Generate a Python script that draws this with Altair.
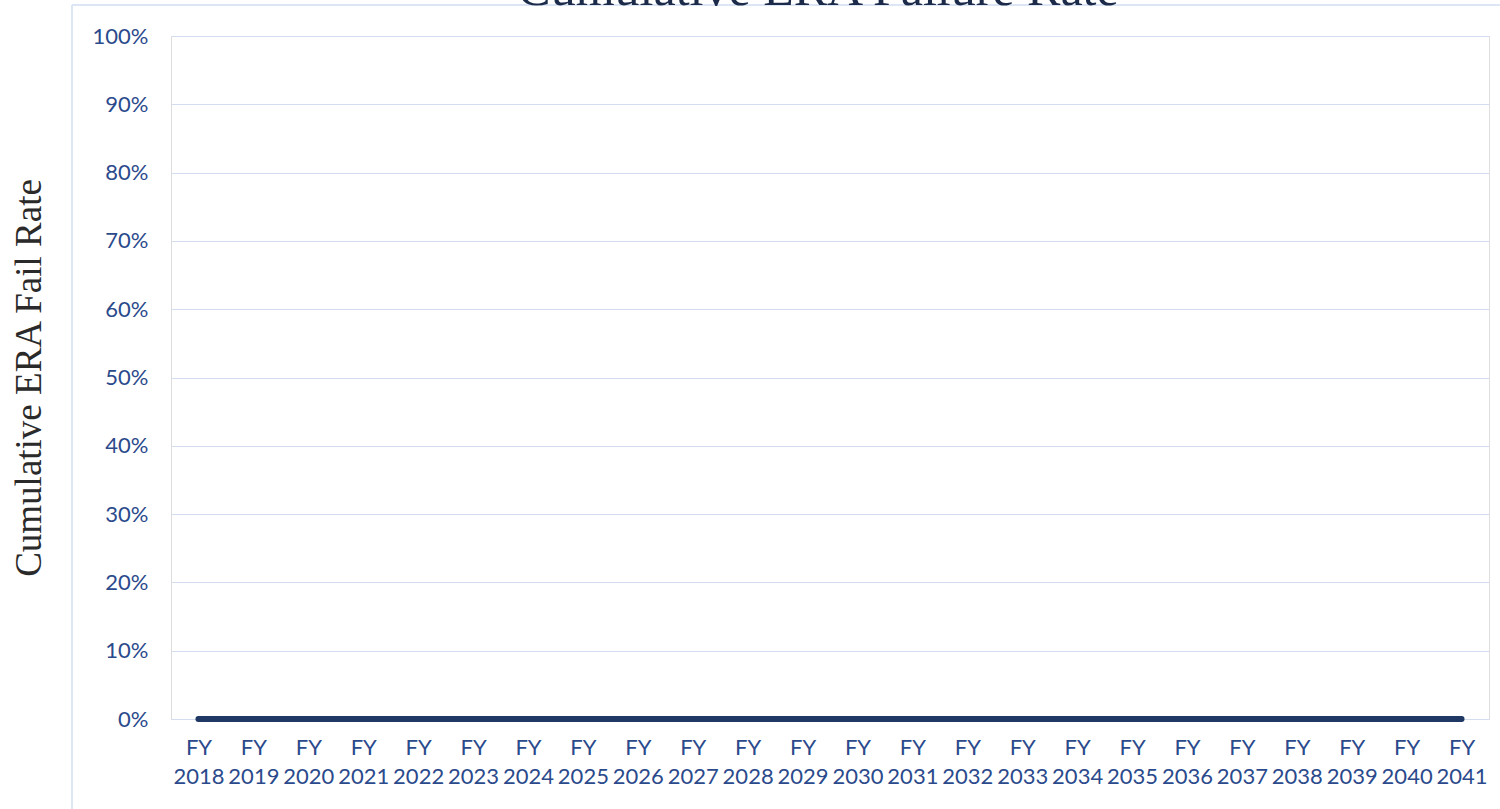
import altair as alt
import pandas as pd

years = ["FY 2018", "FY 2019", "FY 2020", "FY 2021", "FY 2022", "FY 2023", "FY 2024", "FY 2025",
         "FY 2026", "FY 2027", "FY 2028", "FY 2029", "FY 2030", "FY 2031", "FY 2032", "FY 2033",
         "FY 2034", "FY 2035", "FY 2036", "FY 2037", "FY 2038", "FY 2039", "FY 2040", "FY 2041"]
fail_rate = [0.0, 0.0, 0.0, 0.0, 0.0, 0.0, 0.0, 0.0, 0.0, 0.0, 0.0, 0.0,
             0.0, 0.0, 0.0, 0.0, 0.0, 0.0, 0.0, 0.0, 0.0, 0.0, 0.0, 0.0]
y_ticks = [0, 0.1, 0.2, 0.3, 0.4, 0.5, 0.6, 0.7, 0.8, 0.9, 1.0]
chart_title = "Cumulative ERA Failure Rate"

df = pd.DataFrame({"year": years, "rate": fail_rate})

label_font = "Lato"
label_color = "#2b4a8c"

line = alt.Chart(df).mark_line(color="#1f3864", strokeWidth=6, strokeCap="round").encode(
    x=alt.X("year:N", sort=years, scale=alt.Scale(paddingInner=0, paddingOuter=0),
            axis=alt.Axis(title=None, labelAngle=0, ticks=False, domain=False, grid=False,
                          labelExpr="split(datum.label, ' ')",
                          labelFont=label_font, labelFontSize=22, labelColor=label_color,
                          labelLineHeight=29, labelPadding=18, labelBaseline="top")),
    y=alt.Y("rate:Q", scale=alt.Scale(domain=[0, 1], nice=False, zero=True),
            axis=alt.Axis(title="Cumulative ERA Fail Rate", format=".0%", values=y_ticks,
                          ticks=False, domain=False, grid=True, gridColor="#d3ddef",
                          gridWidth=1.2, labelFont=label_font, labelFontSize=22,
                          labelColor=label_color, labelPadding=23,
                          titleFont="Liberation Serif", titleFontSize=37,
                          titleFontWeight="normal", titleColor="#2a2a2a",
                          titlePadding=44)),
)

frame_left = alt.Chart(df).mark_rule(color="#dce6f4", strokeWidth=1.5, clip=False).encode(
    x=alt.value(-99), y=alt.value(-31), y2=alt.value(773))
frame_top = alt.Chart(df).mark_rule(color="#dce6f4", strokeWidth=1.5, clip=False).encode(
    x=alt.value(-99), x2=alt.value(1330), y=alt.value(-31))

title_text = alt.Chart(pd.DataFrame({"t": [chart_title]})).mark_text(
    font="Liberation Serif", fontSize=50, color="#1c2b4a", baseline="alphabetic",
    align="center", clip=False
).encode(text="t:N", x=alt.value(647), y=alt.value(-31))

chart = alt.layer(frame_left, frame_top, line, title_text).properties(
    width=1318, height=683,
    padding={"left": 171, "top": 36, "right": 11, "bottom": 90},
    autosize=alt.AutoSizeParams(type="none"),
).configure_view(strokeWidth=0).configure(background="white")

chart.save("out.html", embed_options={"renderer": "svg", "actions": False})
